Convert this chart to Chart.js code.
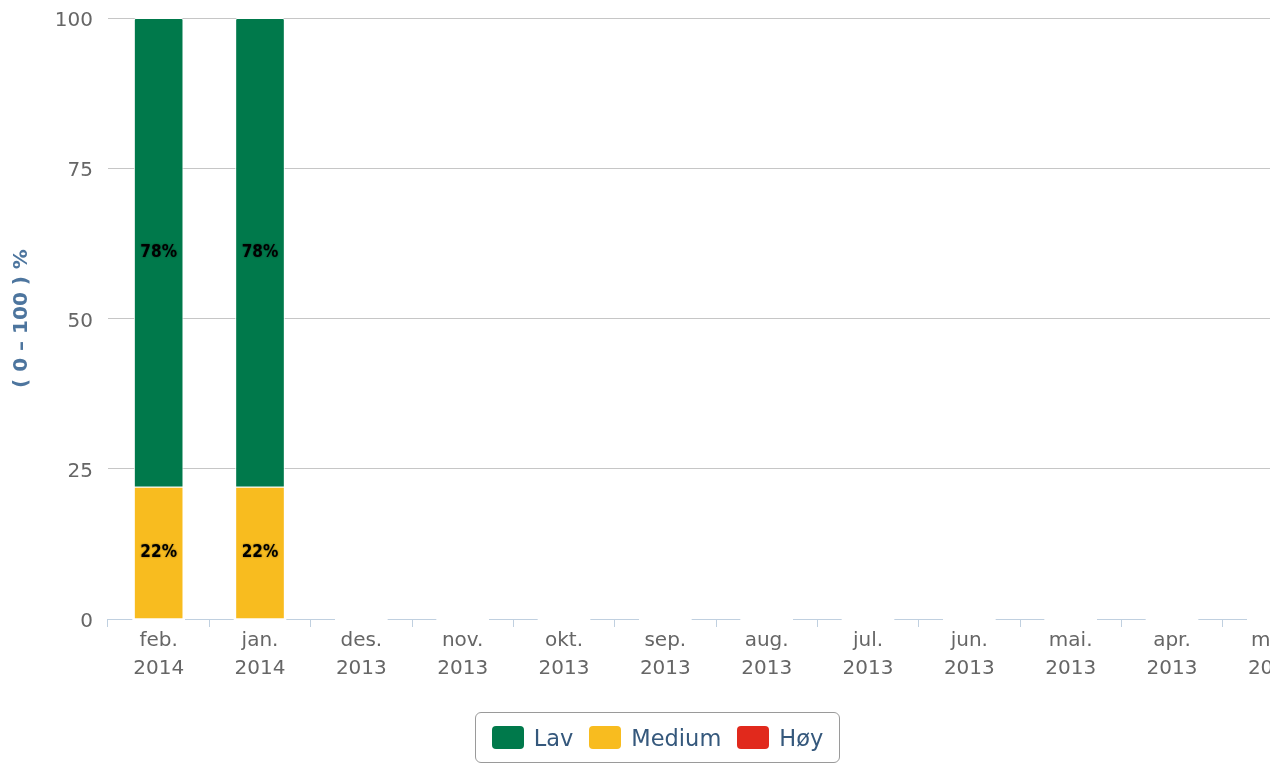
<!DOCTYPE html>
<html>
<head>
<meta charset="utf-8">
<script src="https://cdn.jsdelivr.net/npm/chart.js@4/dist/chart.umd.min.js"></script>
<style>
  body { margin:0; background:#fff; }
  #wrap { position:relative; width:1270px; height:765px; overflow:hidden; }
  #legend { position:absolute; left:475px; top:712px; width:363px; height:49px; border:1px solid #9a9a9a; border-radius:6px;
            display:flex; align-items:center; justify-content:center; font-family:'DejaVu Sans', sans-serif; font-size:22.5px; color:#35587c; }
  .item { display:flex; align-items:center; margin:0 8px; }
  .sw { width:32px; height:23px; border-radius:4px; margin-right:10px; }
</style>
</head>
<body>
<div id="wrap">
  <canvas id="c" width="1334" height="765"></canvas>
  <div id="legend"></div>
</div>
<script>
// categories (newest first) and series values, in %
const categories = [['feb.','2014'],['jan.','2014'],['des.','2013'],['nov.','2013'],['okt.','2013'],['sep.','2013'],
                    ['aug.','2013'],['jul.','2013'],['jun.','2013'],['mai.','2013'],['apr.','2013'],['mar.','2013']];
const lav    = [78, 78, null, null, null, null, null, null, null, null, null, null];
const medium = [22, 22, null, null, null, null, null, null, null, null, null, null];
const hoy    = [0, 0, null, null, null, null, null, null, null, null, null, null];
const seriesNames = ['Lav', 'Medium', 'Høy'];
const seriesColors = ['#00794b', '#f8bc1f', '#e1291c'];
const yTicks = [0, 25, 50, 75, 100];

// legend (html, like the original boxed one)
const legendEl = document.getElementById('legend');
seriesNames.forEach((n, i) => {
  const it = document.createElement('div');
  it.className = 'item';
  it.innerHTML = '<div class="sw" style="background:' + seriesColors[i] + '"></div><span>' + n + '</span>';
  legendEl.appendChild(it);
});

// axis line with gaps where the (white bordered) columns sit
const axisLine = {
  id: 'axisLine',
  beforeDatasetsDraw(chart) {
    const { ctx, chartArea } = chart;
    const meta = chart.getDatasetMeta(0);
    const y = chartArea.bottom + 0.5;
    ctx.save();
    ctx.strokeStyle = '#c0d0e0';
    ctx.lineWidth = 1;
    let x0 = chartArea.left;
    meta.data.forEach(el => {
      const p = el.getProps(['x', 'width'], true);
      const g0 = p.x - p.width / 2 - 1.5, g1 = p.x + p.width / 2 + 1.5;
      ctx.beginPath(); ctx.moveTo(x0, y); ctx.lineTo(g0, y); ctx.stroke();
      x0 = g1;
    });
    ctx.beginPath(); ctx.moveTo(x0, y); ctx.lineTo(chartArea.right, y); ctx.stroke();
    ctx.restore();
  }
};

// value labels inside the column segments
const valueLabels = {
  id: 'valueLabels',
  afterDatasetsDraw(chart) {
    const { ctx } = chart;
    ctx.save();
    ctx.font = "bold 17px 'DejaVu Sans Condensed', 'DejaVu Sans', sans-serif";
    ctx.textAlign = 'center';
    ctx.textBaseline = 'middle';
    ctx.fillStyle = '#000';
    ctx.shadowColor = 'rgba(0,0,0,0.45)';
    ctx.shadowBlur = 2;
    chart.data.datasets.forEach((ds, di) => {
      chart.getDatasetMeta(di).data.forEach((el, i) => {
        const v = ds.data[i];
        if (!v) return;
        const p = el.getProps(['x', 'y', 'base'], true);
        ctx.fillText(v + '%', p.x, (p.y + p.base) / 2);
      });
    });
    ctx.restore();
  }
};

// Chart.js stacks first dataset at the bottom: Høy, Medium, Lav
const ds = (name, data, color) => ({
  label: name, data, backgroundColor: color, borderColor: '#ffffff', borderWidth: 1, borderRadius: 2,
  barPercentage: 0.49, categoryPercentage: 1
});

new Chart(document.getElementById('c'), {
  type: 'bar',
  data: {
    labels: categories,
    datasets: [ds('Høy', hoy, seriesColors[2]), ds('Medium', medium, seriesColors[1]), ds('Lav', lav, seriesColors[0])]
  },
  options: {
    responsive: false,
    animation: false,
    layout: { padding: { left: 0, top: 18, right: 10, bottom: 0 } },
    plugins: { legend: { display: false }, tooltip: { enabled: false } },
    scales: {
      x: {
        stacked: true,
        afterFit: s => { s.height = 146; s.paddingLeft = 0; s.paddingRight = 0; },
        border: { display: false },
        grid: { offset: true, drawOnChartArea: false, drawTicks: true, tickLength: 8, color: '#c0d0e0' },
        ticks: { autoSkip: false, maxRotation: 0, padding: 0, color: '#666',
                 font: { family: "'DejaVu Sans', sans-serif", size: 20, lineHeight: 1.4 } }
      },
      y: {
        stacked: true, min: 0, max: 100,
        afterFit: s => { s.width = 108; s.paddingTop = 0; s.paddingBottom = 0; },
        afterBuildTicks: s => { s.ticks = yTicks.map(v => ({ value: v })); },
        border: { display: false },
        grid: { drawTicks: false, color: c => c.tick.value === 0 ? 'rgba(0,0,0,0)' : '#c6c6c6' },
        ticks: { padding: 15, labelOffset: 3, color: '#666',
                 font: { family: "'DejaVu Sans', sans-serif", size: 20 } },
        title: { display: true, text: '( 0 – 100 ) %', color: '#4d759e', padding: { top: 10, bottom: 0 },
                 font: { family: "'DejaVu Sans', sans-serif", size: 20, weight: 'bold' } }
      }
    }
  },
  plugins: [axisLine, valueLabels]
});
</script>
</body>
</html>
